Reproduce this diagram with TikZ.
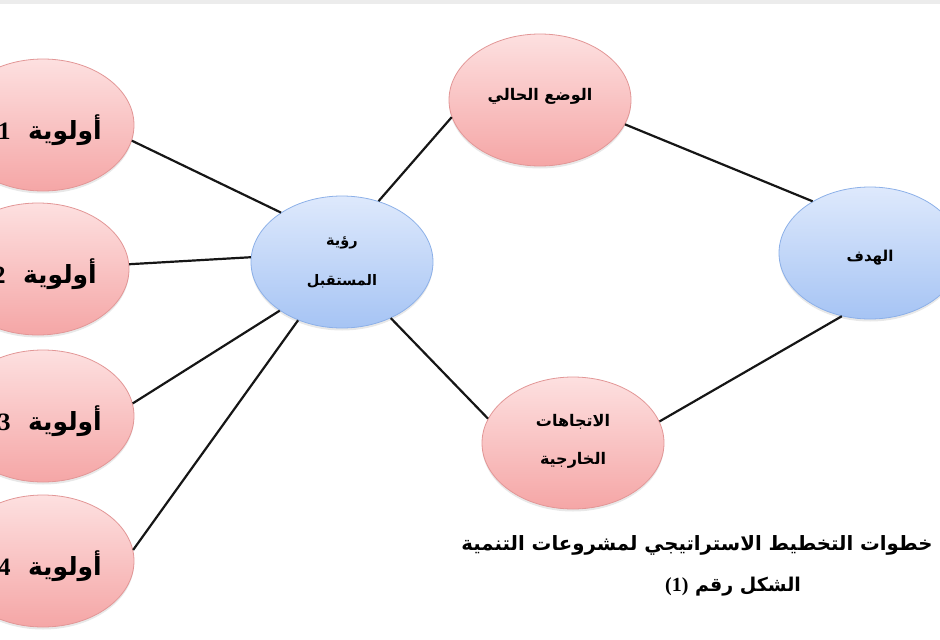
\documentclass[tikz,border=0pt]{standalone}
\usepackage{fontspec}
\setmainfont{Liberation Serif}
\newfontfamily\arabicfont[Script=Arabic]{DejaVu Sans}
\newfontfamily\numfont{Liberation Serif}
\TeXXeTstate=1
\usetikzlibrary{shapes.geometric,shadows}
\definecolor{pinktop}{RGB}{253,224,224}
\definecolor{pinkbot}{RGB}{245,166,166}
\definecolor{pinkedge}{RGB}{226,150,150}
\definecolor{bluetop}{RGB}{222,233,252}
\definecolor{bluebot}{RGB}{166,196,244}
\definecolor{blueedge}{RGB}{140,176,232}
\definecolor{linecol}{RGB}{22,22,22}
\newcommand\prio[1]{\beginR أولوية\ \ \beginL{\numfont\bfseries #1}\endL\hspace*{14pt}\endR}
\tikzset{
  ell/.style={ellipse, minimum width=182pt, minimum height=132pt, inner sep=0pt, line width=0.8pt,
    drop shadow={opacity=0.18, shadow xshift=0pt, shadow yshift=-2.5pt}},
  pinkell/.style={ell, draw=pinkedge, top color=pinktop, bottom color=pinkbot},
  blueell/.style={ell, draw=blueedge, top color=bluetop, bottom color=bluebot},
  conn/.style={draw=linecol, line width=2.2pt},
  prtext/.style={font=\arabicfont\bfseries\fontsize{25}{28}\selectfont, inner sep=0pt},
  smalltext/.style={font=\arabicfont\bfseries\fontsize{14.5}{40}\selectfont, align=center, inner sep=0pt},
  titletext/.style={font=\arabicfont\bfseries\fontsize{19.7}{24}\selectfont, inner sep=0pt}
}
\begin{document}
\begin{tikzpicture}[x=1pt,y=-1pt]
\useasboundingbox (0,0) rectangle (940,640);
\clip (0,0) rectangle (940,640);
\fill[gray!15] (0,0) rectangle (940,4);
% ellipses
\node[pinkell] (p1) at (43,125) {};
\node[pinkell] (p2) at (38,269) {};
\node[pinkell] (p3) at (43,416) {};
\node[pinkell] (p4) at (43,561) {};
\node[blueell] (vis) at (342,262) {};
\node[pinkell] (cur) at (540,100) {};
\node[blueell] (goal) at (870,253) {};
\node[pinkell] (ext) at (573,443) {};
% texts
\node[prtext] (p1t) at ([yshift=-5pt]p1.center) {\prio{1}};
\node[prtext] (p2t) at ([yshift=-5pt]p2.center) {\prio{2}};
\node[prtext] (p3t) at ([yshift=-5pt]p3.center) {\prio{3}};
\node[prtext] (p4t) at ([yshift=-5pt]p4.center) {\prio{4}};
\node[smalltext] (vist) at (vis.center) {\beginR رؤية\endR\\\beginR المستقبل\endR};
\node[smalltext, font=\arabicfont\bfseries\fontsize{16}{18}\selectfont] (curt) at ([yshift=4pt]cur.center) {\beginR الوضع الحالي\endR};
\node[smalltext, font=\arabicfont\bfseries\fontsize{15}{18}\selectfont] (goalt) at ([yshift=-5pt]goal.center) {\beginR الهدف\endR};
\node[smalltext, font=\arabicfont\bfseries\fontsize{16}{38}\selectfont] (extt) at ([yshift=2pt]ext.center) {\beginR الاتجاهات\endR\\\beginR الخارجية\endR};
% connectors
\draw[conn] (p1.-10.8) -- (vis.141.7);
\draw[conn] (p2.3) -- (vis.177);
\draw[conn] (p3.8.5) -- (vis.218.6);
\draw[conn] (p4.7.9) -- (vis.233.3);
\draw[conn] (vis.59) -- (cur.191.3);
\draw[conn] (vis.-49.2) -- (ext.164.1);
\draw[conn] (cur.-16.3) -- (goal.138.7);
\draw[conn] (ext.14.8) -- (goal.246.7);
% captions
\node[titletext] (title) at (697,545) {\beginR خطوات التخطيط الاستراتيجي لمشروعات التنمية\endR};
\node[titletext, font=\arabicfont\bfseries\fontsize{19}{22}\selectfont] (fig) at (733,587) {\beginR الشكل رقم \beginL{\numfont\fontsize{20}{22}\selectfont (1)}\endL\endR};
\end{tikzpicture}
\end{document}
